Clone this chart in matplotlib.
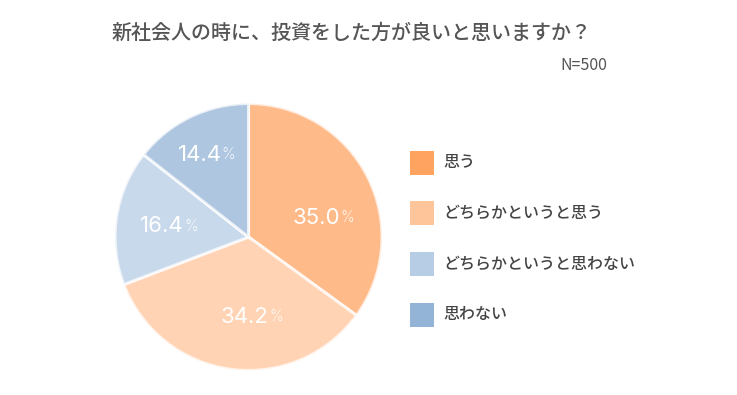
import numpy as np
import matplotlib.pyplot as plt
from matplotlib.patches import Rectangle

plt.rcParams["font.family"] = ["Noto Sans CJK JP", "DejaVu Sans"]

# data
title = "新社会人の時に、投資をした方が良いと思いますか？"
n_label = "N=500"
categories = ["思う", "どちらかというと思う", "どちらかというと思わない", "思わない"]
values = [35.0, 34.2, 16.4, 14.4]
colors = ["#FFA361", "#FFC59A", "#B6CDE5", "#93B4D6"]

W, H = 737, 395
fig = plt.figure(figsize=(W / 100, H / 100), dpi=100)
fig.patch.set_facecolor("white")

# pie axes: centre (248.5, 237) px, radius 133.5 px
cx, cy, r = 248.5, 237, 133.5
ax = fig.add_axes([(cx - r) / W, (H - cy - r) / H, 2 * r / W, 2 * r / H])
wedges, _ = ax.pie(
    values,
    colors=colors,
    startangle=90,
    counterclock=False,
    radius=1.0,
    wedgeprops=dict(edgecolor="white", linewidth=2.2, alpha=0.75),
)
ax.set_xlim(-1, 1)
ax.set_ylim(-1, 1)
ax.set_aspect("equal")
ax.axis("off")

# label placement tweaks (angle shift in deg, distance in radius units)
label_shift = [-13, 10, 1, 1]
label_dist = [0.58, 0.6, 0.6, 0.69]
num_font = ["Inter", "DejaVu Sans"]
for w, v, sh, d in zip(wedges, values, label_shift, label_dist):
    ang = np.deg2rad((w.theta1 + w.theta2) / 2 + sh)
    x, y = d * np.cos(ang), d * np.sin(ang)
    t = ax.annotate(f"{v:.1f}", xy=(x, y), xytext=(-5, 0), textcoords="offset points",
                    ha="center", va="center", color="white", fontsize=16,
                    family=num_font)
    ax.annotate("%", xy=(1, 0), xycoords=t, xytext=(0, 2), textcoords="offset points",
                ha="left", va="bottom", color="white", fontsize=11,
                family=num_font, fontweight="light")

# title and N
fig.text(351.5 / W, 1 - 33 / H, title, ha="center", va="center",
         fontsize=14.4, color="#555555", fontweight="medium")
fig.text(607 / W, 1 - 65 / H, n_label, ha="right", va="center",
         fontsize=11.5, color="#555555")

# legend
y0, dy, sq = 162.5, 50.7, 24
for i, (lab, col) in enumerate(zip(categories, colors)):
    yc = y0 + i * dy
    fig.add_artist(Rectangle((410 / W, 1 - (yc + sq / 2) / H), sq / W, sq / H,
                             transform=fig.transFigure, facecolor=col, edgecolor="none"))
    fig.text(443 / W, 1 - yc / H, lab, ha="left", va="center",
             fontsize=11.5, color="#444444", fontweight="medium")

fig.savefig("out.png", dpi=100, facecolor="white")
